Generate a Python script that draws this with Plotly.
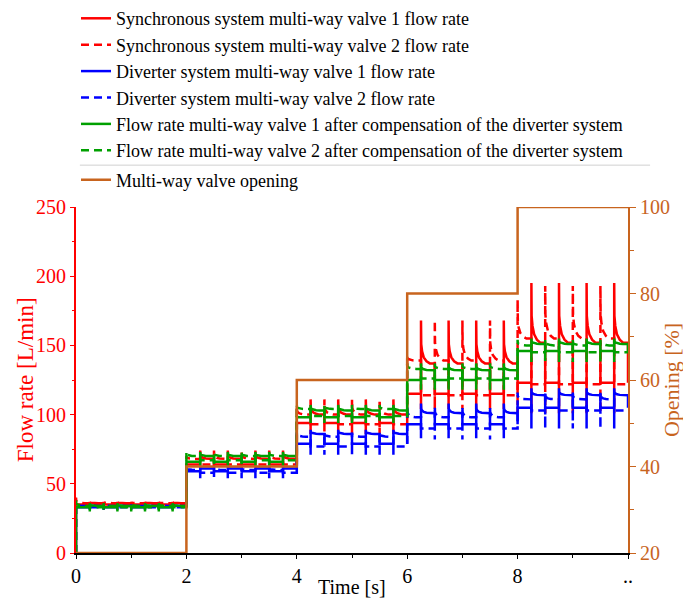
import plotly.graph_objects as go

# ---------------- data ----------------
seg_start = [0, 2, 4, 6, 8]          # s, start of each opening step
t_end = 10

# opening of the multi-way valve [%]
opening_time = [0, 2, 4, 6, 8, 10]
opening_value = [20, 40, 60, 80, 100, 100]

# switching instants inside one 2 s step (s after step start)
valve1_offsets = [0.25, 0.75, 1.25, 1.75]
valve2_offsets = [0.0, 0.5, 1.0, 1.5]
pulse_len = 0.25
# shape of the decay after a switching spike
decay_dt = [0.0, 0.004, 0.02, 0.05, 0.1, 0.16]
decay_frac = [1.0, 0.45, 0.28, 0.14, 0.05, 0.0]

# Synchronous system, valve 1 (red solid)
sync1_peak = [37, 74, 111, 168, 195]
sync1_knee = [36, 68, 100, 137, 152]
sync1_base = [35, 64, 94, 115, 123]
sync1_dip = [33, 62, 86, 104, 101]
# Synchronous system, valve 2 (red dashed)
sync2_peak = [37, 74, 111, 168, 193]
sync2_knee = [36, 68, 100, 139, 155]
sync2_base = [35, 64, 93, 114, 122]
sync2_dip = [33, 62, 86, 104, 101]
sync2_first = [40, 70, 106, 143, 183]

# Diverter system, valve 1 (blue solid)
div1_peak = [35, 62, 89, 108, 119]
div1_knee = [34, 61, 86, 101, 114]
div1_base = [33, 59, 79, 93, 105]
div1_dip = [31, 54, 71, 83, 90]
# Diverter system, valve 2 (blue dashed)
div2_peak = [35, 62, 87, 106, 116]
div2_knee = [34, 60, 84, 98, 111]
div2_base = [33, 58, 77, 90, 103]
div2_dip = [31, 54, 71, 82, 90]
div2_first = [35, 62, 87, 106, 116]

# After compensation, valve 1 (green solid)
comp1_peak = [36, 73, 107, 137, 155]
comp1_knee = [34, 70, 103, 132, 151]
comp1_base = [33, 66, 98, 125, 146]
comp1_dip = [30, 63, 94, 118, 138]
# After compensation, valve 2 (green dashed)
comp2_peak = [36, 73, 107, 137, 154]
comp2_knee = [34, 70, 104, 133, 150]
comp2_base = [33, 67, 99, 126, 145]
comp2_dip = [30, 63, 94, 118, 138]
comp2_first = [38, 73, 107, 137, 154]

names = [
    "Synchronous system multi-way valve 1 flow rate",
    "Synchronous system multi-way valve 2 flow rate",
    "Diverter system multi-way valve 1 flow rate",
    "Diverter system multi-way valve 2 flow rate",
    "Flow rate multi-way valve 1 after compensation of the diverter system",
    "Flow rate multi-way valve 2 after compensation of the diverter system",
    "Multi-way valve opening",
]

RED = "#FF0000"
BLUE = "#0000FF"
GREEN = "#00A000"
ORANGE = "#C8641E"
FONT = "Liberation Serif"


def build(offsets, peak, knee, base, dip, first=None):
    t = [0.0]
    v = [0.0]
    for i, s in enumerate(seg_start):
        if offsets[0] > 0:
            t.append(s)
            v.append(base[i])
        for o in offsets:
            ts = s + o
            p = first[i] if (first is not None and o == 0) else peak[i]
            t += [ts, ts, ts]
            v += [v[-1], dip[i], p]
            for dt, f in zip(decay_dt[1:], decay_frac[1:]):
                t.append(ts + dt)
                v.append(knee[i] + (p - knee[i]) * f)
            t += [ts + pulse_len, ts + pulse_len]
            v += [knee[i], base[i]]
    if t[-1] < t_end:
        t.append(t_end)
        v.append(v[-1])
    return t, v


series = [
    (valve1_offsets, sync1_peak, sync1_knee, sync1_base, sync1_dip, None, RED, "solid"),
    (valve2_offsets, sync2_peak, sync2_knee, sync2_base, sync2_dip, sync2_first, RED, "8px,5px"),
    (valve1_offsets, div1_peak, div1_knee, div1_base, div1_dip, None, BLUE, "solid"),
    (valve2_offsets, div2_peak, div2_knee, div2_base, div2_dip, div2_first, BLUE, "8px,5px"),
    (valve1_offsets, comp1_peak, comp1_knee, comp1_base, comp1_dip, None, GREEN, "solid"),
    (valve2_offsets, comp2_peak, comp2_knee, comp2_base, comp2_dip, comp2_first, GREEN, "8px,5px"),
]

fig = go.Figure()
for k, (offs, pk, kn, bs, dp, fr, col, dash) in enumerate(series):
    tt, vv = build(offs, pk, kn, bs, dp, fr)
    fig.add_trace(go.Scatter(
        x=tt, y=vv, mode="lines", name=names[k], legend="legend",
        line=dict(color=col, width=2.5, dash=dash), yaxis="y",
    ))

fig.add_trace(go.Scatter(
    x=opening_time, y=opening_value, mode="lines", name=names[6], legend="legend2",
    line=dict(color=ORANGE, width=2.5, shape="hv"), yaxis="y2",
))

legend_common = dict(
    xanchor="left", yanchor="top",
    font=dict(family=FONT, size=18, color="black"),
    tracegroupgap=0, bgcolor="rgba(0,0,0,0)", itemwidth=30,
)

fig.update_layout(
    width=683, height=599,
    margin=dict(l=76, r=55, t=207, b=46, autoexpand=False),
    paper_bgcolor="white", plot_bgcolor="white",
    font=dict(family=FONT, size=20, color="black"),
    showlegend=True,
    legend=dict(x=0.0, y=1.598, **legend_common),
    legend2=dict(x=0.0, y=1.131, **legend_common),
    xaxis=dict(
        range=[0, 10], tickvals=[0, 2, 4, 6, 8, 10],
        ticktext=["0", "2", "4", "6", "8", ".."],
        showline=True, linecolor="black", linewidth=2, mirror=False,
        ticks="outside", ticklen=4, tickcolor="black",
        minor=dict(dtick=1, ticks="outside", ticklen=3, tickcolor="black"),
        showgrid=False, zeroline=False,
        tickfont=dict(family=FONT, size=20, color="black"),
    ),
    yaxis=dict(
        range=[0, 250], tickvals=[0, 50, 100, 150, 200, 250],
        showline=True, linecolor=RED, linewidth=2,
        ticks="outside", ticklen=4, tickcolor=RED,
        minor=dict(dtick=25, ticks="outside", ticklen=2, tickcolor=RED),
        showgrid=False, zeroline=False,
        tickfont=dict(family=FONT, size=20, color=RED),
    ),
    yaxis2=dict(
        range=[20, 100], tickvals=[20, 40, 60, 80, 100],
        overlaying="y", side="right", anchor="x",
        showline=True, linecolor=ORANGE, linewidth=2,
        ticks="outside", ticklen=6, tickcolor=ORANGE,
        minor=dict(dtick=10, ticks="outside", ticklen=4, tickcolor=ORANGE),
        showgrid=False, zeroline=False,
        tickfont=dict(family=FONT, size=20, color=ORANGE),
    ),
    shapes=[dict(
        type="line", xref="paper", yref="paper",
        x0=0.007, x1=1.04, y0=1.121, y1=1.121,
        line=dict(color="#D0D0D0", width=1),
    )],
    annotations=[
        dict(text="Time [s]", xref="paper", yref="paper", x=0.5, y=-0.097,
             xanchor="center", yanchor="middle", showarrow=False,
             font=dict(family=FONT, size=20, color="black")),
        dict(text="Flow rate [L/min]", xref="paper", yref="paper", x=-0.092, y=0.5,
             xanchor="center", yanchor="middle", showarrow=False, textangle=-90,
             font=dict(family=FONT, size=23, color=RED)),
        dict(text="Opening [%]", xref="paper", yref="paper", x=1.078, y=0.5,
             xanchor="center", yanchor="middle", showarrow=False, textangle=-90,
             font=dict(family=FONT, size=22, color=ORANGE)),
    ],
)

fig.write_html("out.html")
